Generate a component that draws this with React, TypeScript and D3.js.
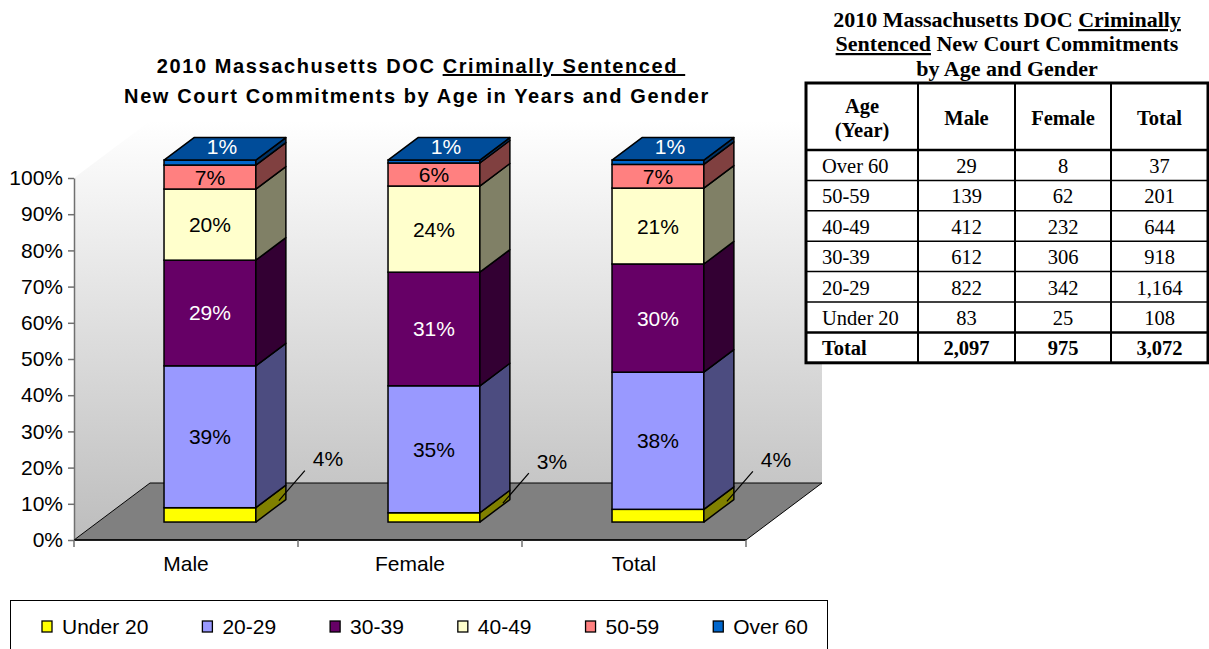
import React, { useEffect, useRef } from 'react';
import * as d3 from 'd3';

// age groups from the bottom of the stack to the top
const ageGroups = ["Under 20", "20-29", "30-39", "40-49", "50-59", "Over 60"];
const genders = ["Male", "Female", "Total"];
const maleCounts = [83, 822, 612, 412, 139, 29];
const femaleCounts = [25, 342, 306, 232, 62, 8];
const totalCounts = [108, 1164, 918, 644, 201, 37];
const yTicks = [0, 10, 20, 30, 40, 50, 60, 70, 80, 90, 100];

const frontColors = ["#FFFF00", "#9999FF", "#660066", "#FFFFCC", "#FF8080", "#0066CC"];
const sideColors = ["#808000", "#4C4C80", "#330033", "#808066", "#804040", "#003366"];
const labelColors = ["#000000", "#000000", "#FFFFFF", "#000000", "#000000", "#FFFFFF"];
const topColor = "#004C99";

const sansFont = "'Liberation Sans', Arial, sans-serif";
const serifFont = "'Liberation Serif', 'Times New Roman', serif";

const W = 1209;
const H = 649;

function drawChart(svg: any) {
  const plot = { left: 74, right: 746, bottom: 540, top: 178 };
  const depth = { x: 76, y: 57 };
  const barFront = 0.315;
  const barBack = 0.71;
  const labelFont = "21px " + sansFont;

  const countsByGender: any = { Male: maleCounts, Female: femaleCounts, Total: totalCounts };

  var x = d3.scaleBand().domain(genders).range([plot.left, plot.right]);
  var y = d3.scaleLinear().domain([0, 100]).range([plot.bottom, plot.top]);

  var defs = svg.append("defs");
  var grad = defs.append("linearGradient")
    .attr("id", "wallGrad")
    .attr("gradientUnits", "userSpaceOnUse")
    .attr("x1", 0).attr("y1", y(100) - depth.y)
    .attr("x2", 0).attr("y2", plot.bottom);
  grad.append("stop").attr("offset", 0).attr("stop-color", "#ffffff");
  grad.append("stop").attr("offset", 1).attr("stop-color", "#bdbdbd");

  // walls and floor
  svg.append("polygon")
    .attr("points", [[plot.left, y(0)], [plot.left + depth.x, y(0) - depth.y], [plot.left + depth.x, y(100) - depth.y], [plot.left, y(100)]].join(" "))
    .attr("fill", "url(#wallGrad)");

  svg.append("rect")
    .attr("x", plot.left + depth.x)
    .attr("y", y(100) - depth.y)
    .attr("width", plot.right - plot.left)
    .attr("height", y(0) - y(100))
    .attr("fill", "url(#wallGrad)");

  svg.append("polygon")
    .attr("points", [[plot.left, y(0)], [plot.left + depth.x, y(0) - depth.y], [plot.right + depth.x, y(0) - depth.y], [plot.right, y(0)]].join(" "))
    .attr("fill", "#808080")
    .attr("stroke", "#000")
    .attr("stroke-width", 1);

  // y axis
  var yAxis = svg.append("g")
    .attr("transform", "translate(" + plot.left + ",0)")
    .call(d3.axisLeft(y).tickValues(yTicks).tickSize(6).tickSizeOuter(0).tickFormat((d: any) => d + "%"));
  yAxis.select(".domain").attr("stroke", "#707070").attr("stroke-width", 1.5);
  yAxis.selectAll(".tick line").attr("stroke", "#707070").attr("stroke-width", 1.5);
  yAxis.selectAll(".tick text")
    .attr("x", -11)
    .style("font", labelFont)
    .attr("fill", "#000");

  // x axis
  svg.append("line")
    .attr("x1", plot.left).attr("x2", plot.right)
    .attr("y1", plot.bottom).attr("y2", plot.bottom)
    .attr("stroke", "#000").attr("stroke-width", 1.5);
  var edges = genders.map((g) => x(g) as number).concat([plot.right]);
  svg.selectAll(".xtick")
    .data(edges)
    .enter().append("line")
    .attr("x1", (d: number) => d).attr("x2", (d: number) => d)
    .attr("y1", plot.bottom).attr("y2", plot.bottom + 7)
    .attr("stroke", "#707070").attr("stroke-width", 1.5);
  svg.selectAll(".xlabel")
    .data(genders)
    .enter().append("text")
    .attr("x", (d: string) => (x(d) as number) + x.bandwidth() / 2)
    .attr("y", plot.bottom + 31)
    .attr("text-anchor", "middle")
    .style("font", labelFont)
    .text((d: string) => d);

  // bars
  const barWidth = x.bandwidth() * 0.41;
  const bdx = depth.x * (barBack - barFront);
  const bdy = depth.y * (barBack - barFront);
  const pct = d3.format(".0%");

  genders.forEach((g) => {
    const counts = countsByGender[g];
    const sum = d3.sum(counts);
    const xl = (x(g) as number) + (x.bandwidth() - barWidth) / 2 + depth.x * barFront;
    const xr = xl + barWidth;
    const dy0 = depth.y * barFront;
    var cum = 0;
    var bar = svg.append("g");
    counts.forEach((c: number, i: number) => {
      const p0 = cum;
      const p1 = cum + (c / sum) * 100;
      cum = p1;
      const yb = y(p0) - dy0;
      const yt = y(p1) - dy0;
      bar.append("rect")
        .attr("x", xl).attr("y", yt)
        .attr("width", barWidth).attr("height", yb - yt)
        .attr("fill", frontColors[i])
        .attr("stroke", "#000").attr("stroke-width", 1.5);
      bar.append("polygon")
        .attr("points", [[xr, yb], [xr + bdx, yb - bdy], [xr + bdx, yt - bdy], [xr, yt]].join(" "))
        .attr("fill", sideColors[i])
        .attr("stroke", "#000").attr("stroke-width", 1.5).attr("stroke-linejoin", "round");
      if (i === counts.length - 1) {
        bar.append("polygon")
          .attr("points", [[xl, yt], [xl + bdx, yt - bdy], [xr + bdx, yt - bdy], [xr, yt]].join(" "))
          .attr("fill", topColor)
          .attr("stroke", "#000").attr("stroke-width", 1.5).attr("stroke-linejoin", "round");
      }
      const label = pct(c / sum);
      const ym = (yb + yt) / 2;
      if (i === 0) {
        // leader line out to the right
        const sx = xr + bdx / 2 + 8;
        const sy = ym - bdy / 2 - 3;
        const ex = sx + 26;
        const ey = sy - 30;
        bar.append("line")
          .attr("x1", sx).attr("y1", sy).attr("x2", ex).attr("y2", ey)
          .attr("stroke", "#000").attr("stroke-width", 1.2);
        bar.append("text")
          .attr("x", ex + 8).attr("y", ey - 12)
          .attr("dominant-baseline", "central")
          .style("font", labelFont)
          .attr("fill", labelColors[i])
          .text(label);
      } else if (i === counts.length - 1) {
        bar.append("text")
          .attr("x", (xl + xr) / 2 + bdx / 2 - 3).attr("y", yt - bdy / 2 - 2)
          .attr("text-anchor", "middle")
          .attr("dominant-baseline", "central")
          .style("font", labelFont)
          .attr("fill", labelColors[i])
          .text(label);
      } else {
        bar.append("text")
          .attr("x", (xl + xr) / 2).attr("y", ym)
          .attr("text-anchor", "middle")
          .attr("dominant-baseline", "central")
          .style("font", labelFont)
          .attr("fill", labelColors[i])
          .text(label);
      }
    });
  });

  // title
  var title = svg.append("text")
    .attr("text-anchor", "middle")
    .style("font", "bold 20px " + sansFont)
    .style("letter-spacing", "1.6px")
    .style("white-space", "pre");
  var t1 = title.append("tspan").attr("x", 421).attr("y", 73);
  t1.append("tspan").text("2010 Massachusetts DOC ");
  t1.append("tspan").style("text-decoration", "underline").text("Criminally Sentenced ");
  title.append("tspan").attr("x", 417).attr("y", 103).text("New Court Commitments by Age in Years and Gender");

  // legend
  svg.append("rect")
    .attr("x", 10.5).attr("y", 600.5)
    .attr("width", 817).attr("height", 70)
    .attr("fill", "#fff").attr("stroke", "#000").attr("stroke-width", 1);
  var lx = 42;
  ageGroups.forEach((a, i) => {
    var item = svg.append("g");
    item.append("rect")
      .attr("x", lx).attr("y", 621)
      .attr("width", 10).attr("height", 11)
      .attr("fill", frontColors[i])
      .attr("stroke", "#000").attr("stroke-width", 1.3);
    var t = item.append("text")
      .attr("x", lx + 20).attr("y", 634)
      .style("font", labelFont)
      .text(a);
    const tw = (t.node() as SVGTextElement).getComputedTextLength();
    lx = lx + 20 + tw + 54;
  });
}

function drawTable(svg: any) {
  const cols = [806, 918, 1015, 1111, 1208];
  const top = 83;
  const headH = 67;
  const rowH = 30.4;
  const rowLabels = ageGroups.slice().reverse();
  const fmt = d3.format(",");
  const colData = [maleCounts, femaleCounts, totalCounts].map((c) => c.slice().reverse());
  const totals = [maleCounts, femaleCounts, totalCounts].map((c) => d3.sum(c));
  const nRows = rowLabels.length + 1;
  const bottom = top + headH + rowH * nRows;
  const left = cols[0];
  const right = cols[cols.length - 1];

  // title above the table
  var tt = svg.append("text")
    .attr("text-anchor", "middle")
    .style("font", "bold 22px " + serifFont);
  var l1 = tt.append("tspan").attr("x", (left + right) / 2).attr("y", 27);
  l1.append("tspan").text("2010 Massachusetts DOC ");
  l1.append("tspan").style("text-decoration", "underline").text("Criminally");
  var l2 = tt.append("tspan").attr("x", (left + right) / 2).attr("y", 51);
  l2.append("tspan").style("text-decoration", "underline").text("Sentenced");
  l2.append("tspan").text(" New Court Commitments");
  tt.append("tspan").attr("x", (left + right) / 2).attr("y", 76).text("by Age and Gender");

  svg.append("rect")
    .attr("x", left).attr("y", top)
    .attr("width", right - left).attr("height", bottom - top)
    .attr("fill", "#fff");

  // horizontal rules
  for (var r = 1; r < nRows; r++) {
    const yy = top + headH + rowH * r;
    svg.append("line")
      .attr("x1", left).attr("x2", right).attr("y1", yy).attr("y2", yy)
      .attr("stroke", "#000").attr("stroke-width", r === nRows - 1 ? 2.5 : 1.5);
  }
  svg.append("line")
    .attr("x1", left).attr("x2", right).attr("y1", top + headH).attr("y2", top + headH)
    .attr("stroke", "#000").attr("stroke-width", 2.5);
  cols.slice(1, -1).forEach((cx) => {
    svg.append("line")
      .attr("x1", cx).attr("x2", cx).attr("y1", top).attr("y2", bottom)
      .attr("stroke", "#000").attr("stroke-width", 2);
  });
  svg.append("rect")
    .attr("x", left).attr("y", top)
    .attr("width", right - left).attr("height", bottom - top)
    .attr("fill", "none").attr("stroke", "#000").attr("stroke-width", 3);

  const centers = cols.slice(0, -1).map((c, i) => (c + cols[i + 1]) / 2);

  // header
  const headFont = "bold 20.5px " + serifFont;
  svg.append("text").attr("x", centers[0]).attr("y", 113).attr("text-anchor", "middle").style("font", headFont).text("Age");
  svg.append("text").attr("x", centers[0]).attr("y", 137).attr("text-anchor", "middle").style("font", headFont).text("(Year)");
  genders.forEach((g, i) => {
    svg.append("text").attr("x", centers[i + 1]).attr("y", 125).attr("text-anchor", "middle").style("font", headFont).text(g);
  });

  // body
  const bodyFont = "20.5px " + serifFont;
  rowLabels.forEach((lab, r) => {
    const yy = top + headH + rowH * r + 23;
    svg.append("text").attr("x", left + 16).attr("y", yy).style("font", bodyFont).text(lab);
    colData.forEach((col, c) => {
      svg.append("text").attr("x", centers[c + 1]).attr("y", yy).attr("text-anchor", "middle").style("font", bodyFont).text(fmt(col[r]));
    });
  });
  const ty = top + headH + rowH * (nRows - 1) + 23;
  svg.append("text").attr("x", left + 16).attr("y", ty).style("font", headFont).text("Total");
  totals.forEach((t, c) => {
    svg.append("text").attr("x", centers[c + 1]).attr("y", ty).attr("text-anchor", "middle").style("font", headFont).text(fmt(t));
  });
}

function Chart() {
  var ref = useRef<SVGSVGElement>(null);

  useEffect(() => {
    document.body.style.margin = "0";
    const svg = d3.select(ref.current);
    svg.selectAll("*").remove();
    drawChart(svg);
    drawTable(svg);
  }, []);

  return <svg ref={ref} width={W} height={H} style={{ display: "block", background: "#fff" }} />;
}

export default function App() {
  return <Chart />;
}
